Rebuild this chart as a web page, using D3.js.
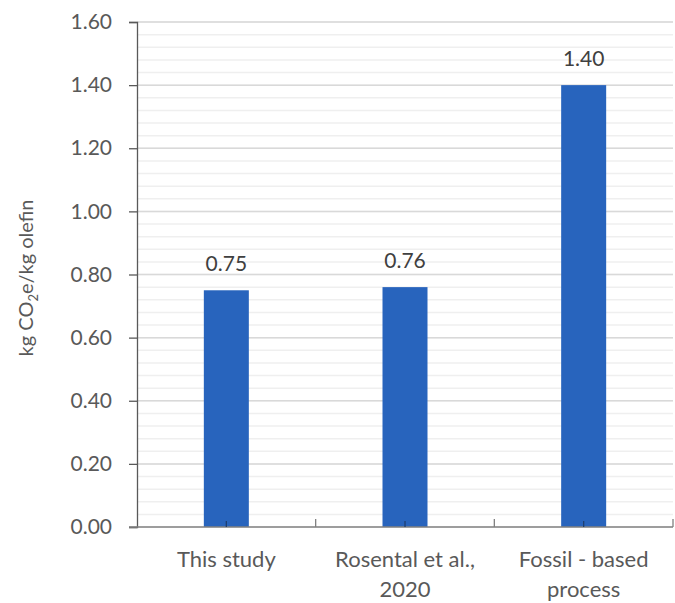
<!DOCTYPE html>
<html>
<head>
<meta charset="utf-8">
<script src="https://cdn.jsdelivr.net/npm/d3@7"></script>
<style>
  body { margin: 0; background: #fff; }
  text { font-family: Lato, "Open Sans", sans-serif; fill: #595959; }
</style>
</head>
<body>
<svg width="675" height="603"></svg>
<script>
// Datos del gráfico
const categories = [["This study"], ["Rosental et al.,", "2020"], ["Fossil - based", "process"]];
const values = [0.75, 0.76, 1.40];
const valueLabels = ["0.75", "0.76", "1.40"];
const majorTicks = [0, 0.2, 0.4, 0.6, 0.8, 1.0, 1.2, 1.4, 1.6];
const minorTicks = d3.range(0, 1.6001, 0.04);

const svg = d3.select("svg");
const margin = { top: 22, right: 2, bottom: 76, left: 137 };
const width = 675 - margin.left - margin.right;
const height = 603 - margin.top - margin.bottom;

const g = svg.append("g").attr("transform", `translate(${margin.left},${margin.top})`);

const x = d3.scaleBand().domain(d3.range(values.length)).range([0, width]).paddingInner(0).paddingOuter(0);
const y = d3.scaleLinear().domain([0, 1.6]).range([height, 0]);
const barWidth = 45;

// Líneas de cuadrícula menores
g.selectAll(".minor")
  .data(minorTicks)
  .enter()
  .append("line")
  .attr("x1", 0).attr("x2", width)
  .attr("y1", d => y(d)).attr("y2", d => y(d))
  .attr("stroke", "#efefef")
  .attr("stroke-width", 1.5);

// Líneas de cuadrícula mayores
g.selectAll(".major")
  .data(majorTicks.slice(1))
  .enter()
  .append("line")
  .attr("x1", 0).attr("x2", width)
  .attr("y1", d => y(d)).attr("y2", d => y(d))
  .attr("stroke", "#d9d9d9")
  .attr("stroke-width", 1.5);

// Barras
g.selectAll(".bar")
  .data(values)
  .enter()
  .append("rect")
  .attr("x", (d, i) => x(i) + x.bandwidth() / 2 - barWidth / 2)
  .attr("y", d => y(d))
  .attr("width", barWidth)
  .attr("height", d => height - y(d))
  .attr("fill", "#2864bd");

// Etiquetas de valor
g.selectAll(".val")
  .data(values)
  .enter()
  .append("text")
  .attr("x", (d, i) => x(i) + x.bandwidth() / 2)
  .attr("y", d => y(d) - 19)
  .attr("text-anchor", "middle")
  .style("font-size", "21px")
  .style("fill", "#404040")
  .text((d, i) => valueLabels[i]);

// Eje Y
const yAxis = g.append("g")
  .call(d3.axisLeft(y).tickValues(majorTicks).tickFormat(d3.format(".2f")).tickSize(8).tickPadding(17));
yAxis.select(".domain").attr("stroke", "#595959").attr("stroke-width", 1.3);
yAxis.selectAll(".tick line").attr("stroke", "#595959").attr("stroke-width", 1.3);
yAxis.selectAll(".tick text").style("font-size", "21px").style("fill", "#595959").attr("font-family", null);

// Eje X
g.append("line")
  .attr("x1", -8).attr("x2", width)
  .attr("y1", height).attr("y2", height)
  .attr("stroke", "#808080").attr("stroke-width", 1.3);

// Marcas entre categorías
g.selectAll(".xtick")
  .data(d3.range(1, values.length + 1))
  .enter()
  .append("line")
  .attr("x1", d => x.step() * d).attr("x2", d => x.step() * d)
  .attr("y1", height).attr("y2", height - 8)
  .attr("stroke", "#808080").attr("stroke-width", 1.3);

// Marcas en el centro de cada barra
g.selectAll(".ctick")
  .data(values)
  .enter()
  .append("line")
  .attr("x1", (d, i) => x(i) + x.bandwidth() / 2).attr("x2", (d, i) => x(i) + x.bandwidth() / 2)
  .attr("y1", height).attr("y2", height - 6)
  .attr("stroke", "#1f3f70").attr("stroke-width", 1.3);

// Etiquetas de categoría
const catText = g.selectAll(".cat")
  .data(categories)
  .enter()
  .append("text")
  .attr("text-anchor", "middle")
  .style("font-size", "22px")
  .attr("transform", (d, i) => `translate(${x(i) + x.bandwidth() / 2},${height + 40})`);

catText.selectAll("tspan")
  .data(d => d)
  .enter()
  .append("tspan")
  .attr("x", 0)
  .attr("dy", (d, i) => i === 0 ? 0 : 30)
  .text(d => d);

// Título del eje Y con subíndice
const yTitle = svg.append("text")
  .attr("transform", `translate(33,278) rotate(-90)`)
  .attr("text-anchor", "middle")
  .style("font-size", "20px");
yTitle.append("tspan").text("kg CO");
yTitle.append("tspan").attr("dy", 5).style("font-size", "13px").text("2");
yTitle.append("tspan").attr("dy", -5).text("e/kg olefin");
</script>
</body>
</html>
